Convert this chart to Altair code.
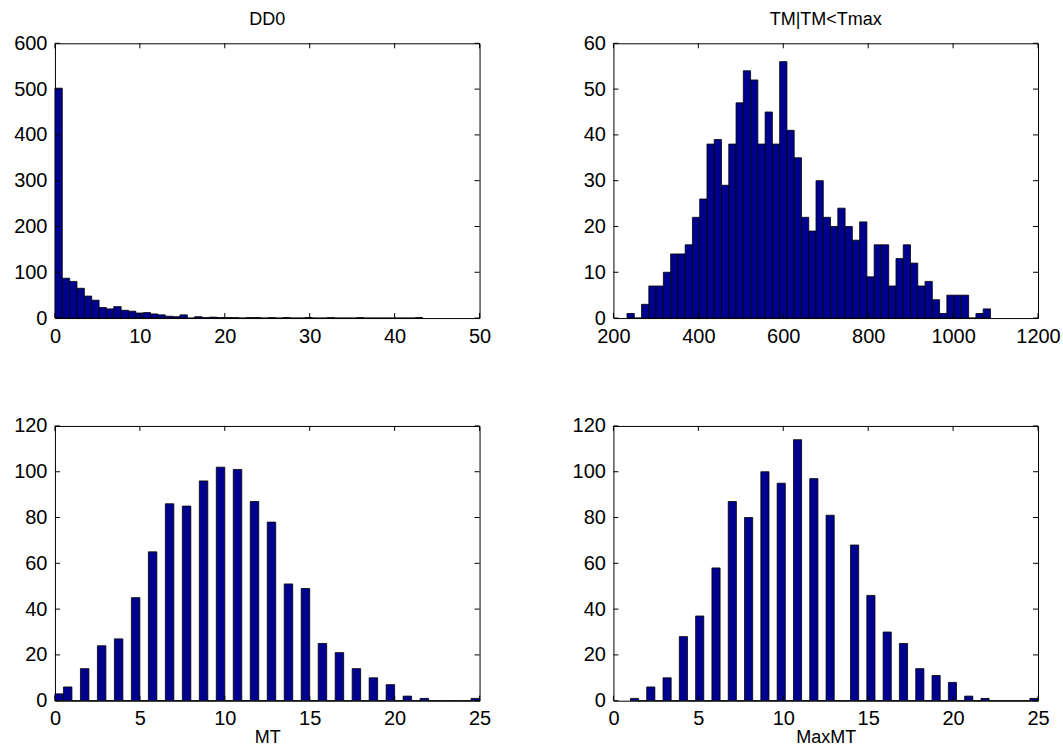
import altair as alt
import numpy as np
import pandas as pd

FILL = "#00008F"
FONT = "Liberation Sans"
NBINS = 50

# ---- data ----
dd0_counts = [502, 87, 80, 65, 48, 39, 23, 20, 25, 17, 15, 11, 12, 9, 7, 4, 3, 7,
              0, 3, 1, 2, 1, 1, 1, 0, 1, 1, 0, 1, 0, 1, 0, 0, 1, 0, 0, 1, 0, 0,
              0, 1, 0, 0, 0, 0, 0, 0, 0, 1]
dd0_range = [0.0, 43.3]

tm_counts = [1, 0, 3, 7, 7, 10, 14, 14, 16, 22, 26, 38, 39, 29, 38, 47, 54, 52, 38, 45,
             38, 56, 41, 35, 22, 19, 30, 22, 20, 24, 20, 17, 21, 9, 16, 16, 7, 13, 16, 12,
             7, 8, 4, 1, 5, 5, 5, 0, 1, 2]
tm_range = [232.0, 1088.0]

mt_values = list(range(0, 26))
mt_counts = [3, 6, 14, 24, 27, 45, 65, 86, 85, 96, 102, 101, 87, 78, 51, 49, 25, 21,
             14, 10, 7, 2, 1, 0, 0, 1]
mt_range = [0.0, 25.0]

maxmt_values = list(range(1, 26))
maxmt_counts = [1, 6, 10, 28, 37, 58, 87, 80, 100, 95, 114, 97, 81, 68, 46, 30, 25, 14,
                11, 8, 2, 1, 0, 0, 1]
maxmt_range = [1.0, 25.0]

dd0_xticks = [0, 10, 20, 30, 40, 50]
dd0_yticks = [0, 100, 200, 300, 400, 500, 600]
tm_xticks = [200, 400, 600, 800, 1000, 1200]
tm_yticks = [0, 10, 20, 30, 40, 50, 60]
mt_xticks = [0, 5, 10, 15, 20, 25]
mt_yticks = [0, 20, 40, 60, 80, 100, 120]


def bin_discrete(values, counts, rng):
    """Place integer-valued counts into 50 equal bins (upper-inclusive edges)."""
    w = (rng[1] - rng[0]) / NBINS
    out = [0] * NBINS
    for v, c in zip(values, counts):
        i = int(np.ceil((v - rng[0]) / w - 1e-9)) - 1
        i = min(max(i, 0), NBINS - 1)
        out[i] += c
    return out


W, H = 425, 275


def panel(counts, rng, xticks, yticks, title=None, xtitle=None):
    edges = np.linspace(rng[0], rng[1], NBINS + 1)
    df = pd.DataFrame({"lo": edges[:-1], "hi": edges[1:], "n": counts, "z": 0})
    xs = alt.Scale(domain=[xticks[0], xticks[-1]], nice=False, zero=False)
    ys = alt.Scale(domain=[yticks[0], yticks[-1]], nice=False)
    xaxis = alt.Axis(values=xticks, title=xtitle if xtitle else None, format="d")
    yaxis = alt.Axis(values=yticks, title=None, format="d")
    bars = alt.Chart(df).mark_rect(fill=FILL, stroke="black", strokeWidth=0.8).encode(
        x=alt.X("lo:Q", scale=xs, axis=xaxis),
        x2="hi",
        y=alt.Y("n:Q", scale=ys, axis=yaxis),
        y2="z",
    )
    xt = pd.DataFrame({"lo": xticks})
    yt = pd.DataFrame({"n": yticks})
    tb = alt.Chart(xt).mark_rule(color="black", strokeWidth=1).encode(
        x=alt.X("lo:Q", scale=xs, axis=xaxis), y=alt.value(H), y2=alt.value(H - 5))
    tt = alt.Chart(xt).mark_rule(color="black", strokeWidth=1).encode(
        x=alt.X("lo:Q", scale=xs, axis=xaxis), y=alt.value(0), y2=alt.value(5))
    tl = alt.Chart(yt).mark_rule(color="black", strokeWidth=1).encode(
        y=alt.Y("n:Q", scale=ys, axis=yaxis), x=alt.value(0), x2=alt.value(5))
    tr = alt.Chart(yt).mark_rule(color="black", strokeWidth=1).encode(
        y=alt.Y("n:Q", scale=ys, axis=yaxis), x=alt.value(W), x2=alt.value(W - 5))
    layer = alt.layer(bars, tb, tt, tl, tr).properties(width=W, height=H)
    if title:
        layer = layer.properties(title=alt.TitleParams(title))
    return layer


p1 = panel(dd0_counts, dd0_range, dd0_xticks, dd0_yticks, title="DD0")
p2 = panel(tm_counts, tm_range, tm_xticks, tm_yticks, title="TM|TM<Tmax")
p3 = panel(bin_discrete(mt_values, mt_counts, mt_range), mt_range, mt_xticks, mt_yticks,
           xtitle="MT")
p4 = panel(bin_discrete(maxmt_values, maxmt_counts, maxmt_range), maxmt_range, mt_xticks,
           mt_yticks, xtitle="MaxMT")

chart = alt.concat(
    p1, p2, p3, p4, columns=2, spacing={"row": 108, "column": 134}, bounds="flush"
).properties(
    padding={"left": 13, "top": 10, "right": 2, "bottom": 1},
    background="white",
).configure_view(
    stroke="black", strokeWidth=1
).configure_axis(
    domain=False, ticks=False, tickSize=0, grid=False, labelFlush=False,
    labelOverlap=False,
    labelFont=FONT, labelFontSize=20, labelColor="black", labelPadding=8,
    titleFont=FONT, titleFontSize=18, titleFontWeight="normal", titleColor="black",
    titlePadding=0,
).configure_title(
    font=FONT, fontSize=18, fontWeight="normal", color="black", offset=4
)

chart.save("out.html", embed_options={"renderer": "svg", "actions": False})
